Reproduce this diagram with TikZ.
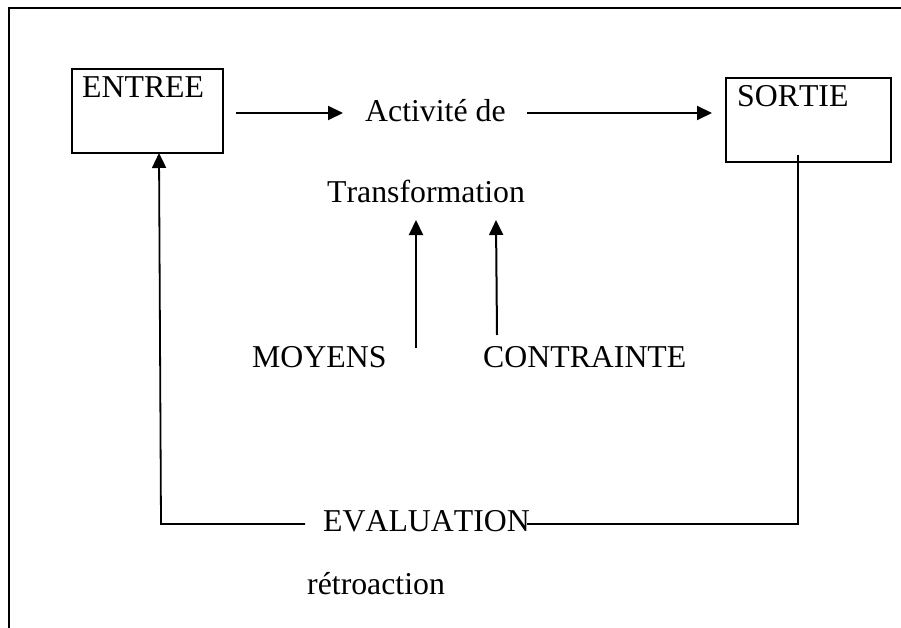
\documentclass[tikz,border=0pt]{standalone}
\usepackage{fontspec}
\setmainfont[Kerning=Off]{Liberation Serif}
\usetikzlibrary{arrows.meta}
\begin{document}
\begin{tikzpicture}[x=1pt,y=-1pt,
  txt/.style={inner sep=0pt, anchor=base west, font=\fontsize{31.8pt}{36pt}\selectfont},
  boxnode/.style={draw, line width=2pt, inner sep=0pt},
  arr/.style={line width=2pt, -{Triangle[length=15pt,width=14pt]}},
  fb/.style={line width=1.8pt},
  frame/.style={line width=2pt}]
\useasboundingbox (0,0) rectangle (901,628);
% outer frame (top and left sides only)
\draw[frame] (9,628) -- (9,8) -- (901,8);
% boxes
\node[boxnode, minimum width=151pt, minimum height=84pt] (entree) at (147.5,111) {};
\node[boxnode, minimum width=165pt, minimum height=84pt] (sortie) at (808.5,120) {};
% texts
\node[txt] (entreeT) at (82,98) {ENTREE};
\node[txt] (sortieT) at (737,107) {SORTIE};
\node[txt] (act) at (365,122) {Activité de};
\node[txt] (trans) at (327,203) {Transformation};
\node[txt] (moyens) at (252,367) {MOYENS};
\node[txt] (contr) at (483,367) {CONTRAINTE};
\node[txt] (eval) at (323,531) {EVALUATION};
\node[txt] (retro) at (307,594) {rétroaction};
% connector points
\coordinate (a1s) at (236,113);
\coordinate (a1e) at (343,113);
\coordinate (a2s) at (527,113);
\coordinate (a2e) at (712,113);
\coordinate (m1) at (416,348);
\coordinate (m2) at (416,220);
\coordinate (c1) at (497,335);
\coordinate (c2) at (496,220);
\coordinate (s1) at (798,155);
\coordinate (s2) at (798,524);
\coordinate (s3) at (527,524);
\coordinate (e1) at (305,524);
\coordinate (e2) at (161,524);
\coordinate (e3) at (159,153);
% arrows
\draw[arr] (a1s) -- (a1e);
\draw[arr] (a2s) -- (a2e);
\draw[arr] (m1) -- (m2);
\draw[arr] (c1) -- (c2);
% feedback loop
\draw[fb] (s1) -- (s2) -- (s3);
\draw[fb, -{Triangle[length=15pt,width=14pt]}] (e1) -- (e2) -- (e3);
\end{tikzpicture}
\end{document}
